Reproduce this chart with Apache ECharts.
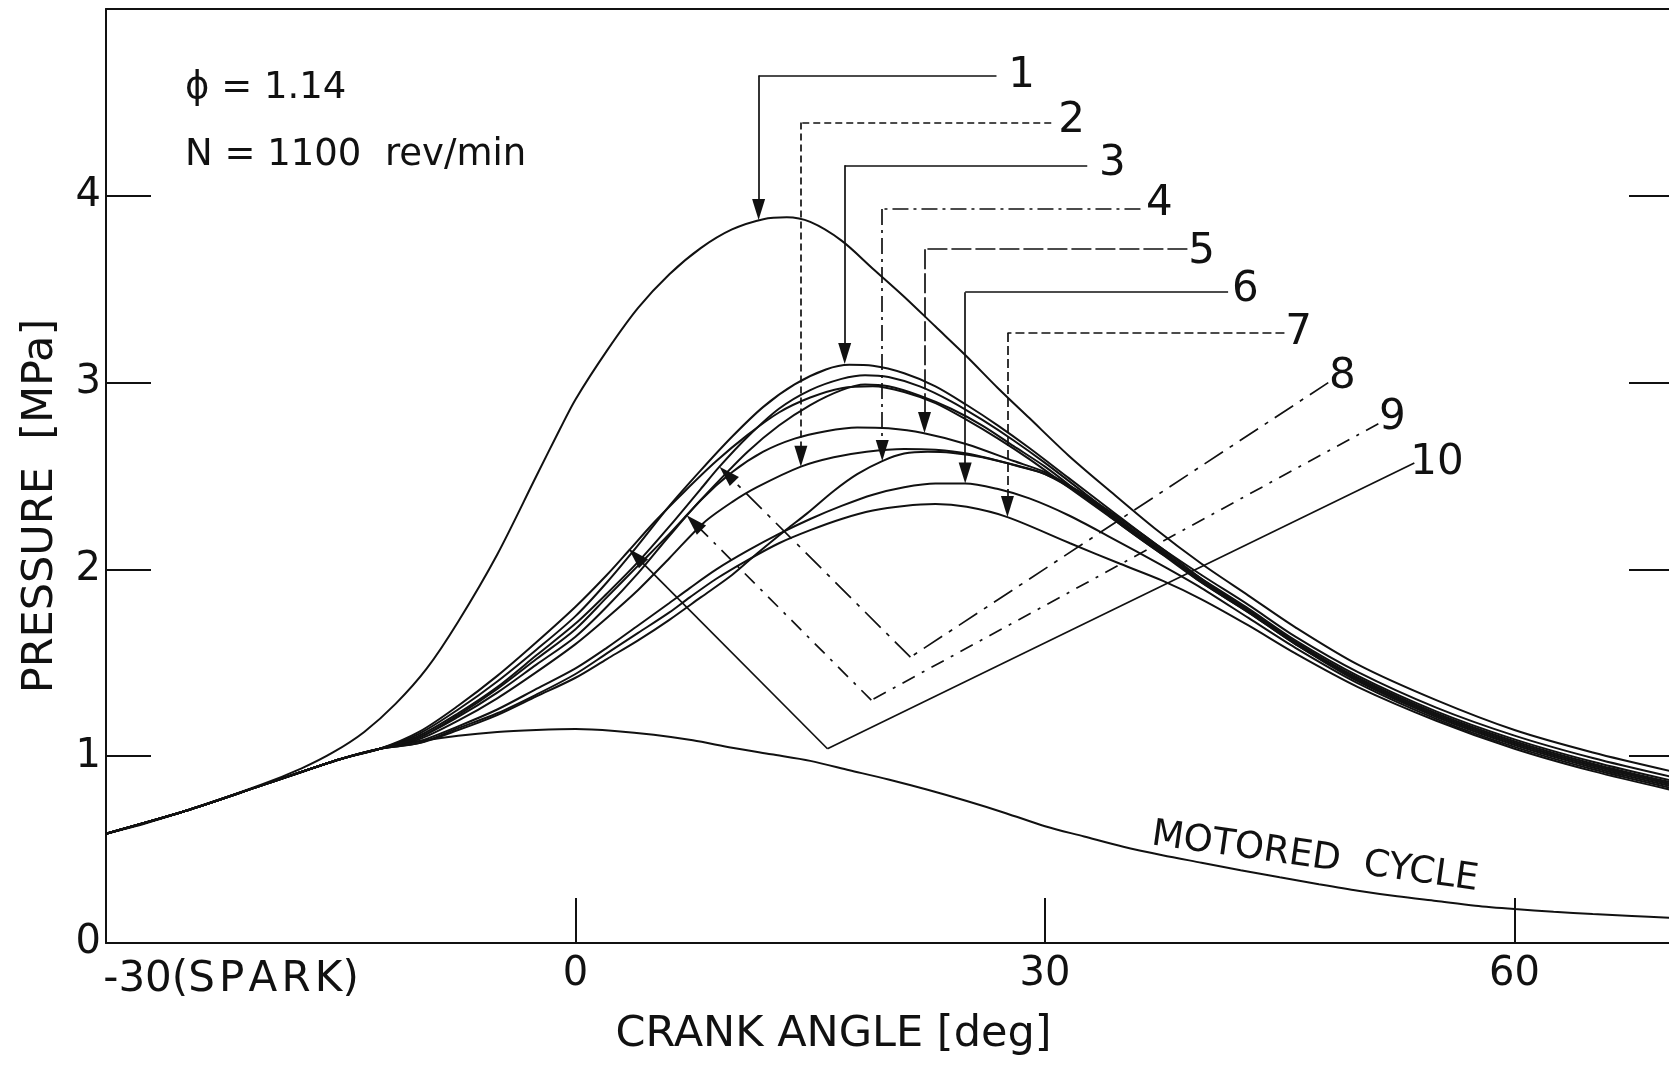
<!DOCTYPE html>
<html>
<head>
<meta charset="utf-8">
<title>Pressure vs crank angle</title>
<script src="https://cdn.jsdelivr.net/npm/echarts@6/dist/echarts.min.js"></script>
<style>
  html, body { margin: 0; padding: 0; background: #fff; }
  #chart { width: 1669px; height: 1069px; }
</style>
</head>
<body>
<div id="chart"></div>
<script>
// [crank angle deg, pressure MPa]
var motored = [[-30,0.585],[-27.5,0.64],[-25,0.705],[-22.5,0.775],[-20,0.845],[-17.5,0.915],[-15,0.985],[-12.5,1.04],[-10,1.08],[-7.5,1.11],[-5,1.13],[-2.5,1.14],[0,1.145],[2.5,1.135],[5,1.115],[7.5,1.085],[10,1.045],[12.5,1.01],[15,0.975],[17.5,0.925],[20,0.875],[22.5,0.82],[25,0.76],[27.5,0.695],[30,0.625],[32.5,0.57],[35,0.515],[37.5,0.47],[40,0.43],[42.5,0.39],[45,0.352],[47.5,0.315],[50,0.28],[52.5,0.25],[55,0.225],[57.5,0.20],[60,0.182],[62.5,0.167],[65,0.155],[67.5,0.145],[70,0.135]];

var cycle1 = [[-30,0.585],[-25,0.705],[-20,0.85],[-17.5,0.935],[-15.5,1.02],[-13.5,1.13],[-11.5,1.28],[-9.5,1.47],[-7.5,1.72],[-5,2.08],[-2.5,2.50],[-1,2.75],[0,2.91],[2,3.17],[4,3.40],[6,3.58],[8,3.72],[10,3.82],[12,3.875],[13.5,3.885],[15,3.86],[17,3.76],[19,3.61],[21,3.46],[23,3.30],[25,3.14],[27,2.97],[29,2.81],[31.5,2.61],[34,2.43],[37,2.22],[40,2.03],[43,1.86],[46,1.69],[50,1.49],[55,1.30],[60,1.14],[65,1.02],[70,0.92]];

var cycle2 = [[-30,0.585],[-25,0.705],[-20,0.845],[-15,0.985],[-12.5,1.04],[-10,1.09],[-7.5,1.19],[-5,1.31],[-2.5,1.45],[0,1.60],[2,1.74],[4,1.89],[6,2.06],[8.2,2.25],[10,2.36],[11.6,2.44],[14.4,2.55],[16.5,2.60],[18.6,2.63],[21,2.645],[23,2.64],[25,2.62],[28,2.56],[30,2.51],[32.5,2.39],[35,2.24],[37.5,2.09],[40,1.93],[43,1.77],[46,1.60],[50,1.40],[55,1.21],[60,1.06],[65,0.94],[70,0.84]];

var cycle3 = [[-30,0.585],[-25,0.705],[-20,0.845],[-15,0.985],[-12.5,1.04],[-10,1.12],[-7.5,1.25],[-5,1.40],[-2.5,1.57],[0,1.75],[2,1.93],[4,2.13],[6,2.34],[8,2.53],[10,2.71],[12,2.87],[14,2.99],[16,3.07],[17.5,3.095],[19,3.09],[21,3.05],[23,2.98],[25,2.88],[27,2.77],[29,2.65],[31.5,2.49],[34,2.33],[37,2.14],[40,1.97],[43,1.81],[46,1.64],[50,1.45],[55,1.26],[60,1.11],[65,0.99],[70,0.89]];

var cycle4 = [[-30,0.585],[-25,0.705],[-20,0.845],[-15,0.985],[-12.5,1.04],[-10,1.07],[-7.5,1.14],[-5,1.22],[-2.5,1.32],[0,1.42],[2,1.52],[4,1.62],[6,1.73],[8,1.85],[10,1.97],[11.6,2.085],[13.5,2.215],[14.8,2.30],[16.5,2.42],[18,2.51],[19.6,2.58],[21,2.62],[22.5,2.63],[24,2.625],[26,2.60],[28.4,2.55],[30,2.51],[32.5,2.40],[35,2.24],[37.5,2.09],[40,1.94],[43,1.78],[46,1.61],[50,1.41],[55,1.22],[60,1.07],[65,0.95],[70,0.85]];

var cycle5 = [[-30,0.585],[-25,0.705],[-20,0.845],[-15,0.985],[-12.5,1.04],[-10,1.10],[-7.5,1.21],[-5,1.34],[-2.5,1.49],[0,1.64],[2,1.80],[4,1.98],[6,2.18],[8,2.37],[10,2.52],[12,2.63],[14,2.70],[16,2.74],[18,2.76],[20,2.755],[22.2,2.73],[25,2.67],[28,2.58],[30,2.52],[32.5,2.40],[35,2.26],[37.5,2.11],[40,1.95],[43,1.78],[46,1.61],[50,1.41],[55,1.22],[60,1.07],[65,0.95],[70,0.85]];

var cycle6 = [[-30,0.585],[-25,0.705],[-20,0.845],[-15,0.985],[-12.5,1.04],[-10,1.08],[-7.5,1.16],[-5,1.25],[-2.5,1.36],[0,1.47],[2,1.58],[4,1.70],[6,1.82],[7.3,1.90],[9,2.00],[11,2.10],[13,2.19],[15,2.27],[17,2.34],[19,2.40],[21,2.44],[23,2.46],[24.9,2.46],[27,2.43],[29,2.38],[31.5,2.29],[34,2.18],[37.5,2.02],[40,1.90],[43,1.74],[46,1.58],[50,1.39],[55,1.20],[60,1.05],[65,0.93],[70,0.83]];

var cycle7 = [[-30,0.585],[-25,0.705],[-20,0.845],[-15,0.985],[-12.5,1.04],[-10,1.07],[-7.5,1.15],[-5,1.23],[-2.5,1.33],[0,1.44],[2,1.55],[4,1.66],[6,1.77],[7.3,1.85],[9,1.95],[11,2.05],[13,2.14],[15,2.21],[17,2.27],[19,2.315],[21,2.34],[23,2.35],[25,2.335],[27.6,2.28],[31.6,2.14],[34.8,2.03],[37.5,1.94],[40,1.84],[43,1.70],[46,1.55],[50,1.37],[55,1.19],[60,1.04],[65,0.92],[70,0.82]];

var cycle8 = [[-30,0.585],[-25,0.705],[-20,0.845],[-15,0.985],[-12.5,1.04],[-10,1.11],[-7.5,1.23],[-5,1.37],[-2.5,1.54],[0,1.71],[2,1.87],[4,2.04],[6,2.23],[8,2.43],[9.2,2.55],[11,2.71],[13,2.86],[15,2.96],[17,3.02],[18.5,3.04],[20,3.03],[22,2.98],[24,2.90],[26,2.80],[28,2.69],[30,2.57],[32.5,2.41],[35,2.25],[37.5,2.10],[40,1.94],[43,1.78],[46,1.61],[50,1.42],[55,1.23],[60,1.08],[65,0.96],[70,0.86]];

var cycle9 = [[-30,0.585],[-25,0.705],[-20,0.845],[-15,0.985],[-12.5,1.04],[-10,1.10],[-7.5,1.22],[-5,1.36],[-2.5,1.52],[0,1.68],[2,1.85],[4,2.02],[6,2.19],[7.1,2.29],[9,2.46],[11,2.63],[13,2.77],[15,2.88],[17,2.96],[18.5,2.99],[20,2.98],[22,2.93],[24,2.86],[26,2.77],[28,2.66],[30,2.55],[32.5,2.39],[35,2.23],[37.5,2.08],[40,1.93],[43,1.77],[46,1.60],[50,1.41],[55,1.22],[60,1.07],[65,0.95],[70,0.85]];

var cycle10 = [[-30,0.585],[-25,0.705],[-20,0.845],[-15,0.985],[-12.5,1.04],[-10,1.13],[-7.5,1.27],[-5,1.43],[-2.5,1.61],[0,1.80],[2,1.97],[3.4,2.10],[5,2.25],[7,2.42],[9,2.58],[11,2.72],[13,2.84],[15,2.92],[17,2.97],[19,2.98],[21,2.95],[23,2.89],[25,2.80],[27,2.70],[29,2.59],[31.5,2.44],[34,2.29],[37,2.11],[40,1.95],[43,1.79],[46,1.62],[50,1.43],[55,1.24],[60,1.09],[65,0.97],[70,0.87]];

// leader paths for the cycle numbers, axis units: label end -> corner -> arrow tip
var leader1 = [[26.9,4.644],[11.7,4.644],[11.7,3.87]];
var leader2 = [[30.4,4.393],[14.4,4.393],[14.4,2.55]];
var leader3 = [[32.7,4.163],[17.2,4.163],[17.2,3.10]];
var leader4 = [[36.1,3.93],[19.6,3.93],[19.6,2.58]];
var leader5 = [[39.1,3.714],[22.3,3.714],[22.3,2.73]];
var leader6 = [[41.7,3.484],[24.9,3.484],[24.9,2.46]];
var leader7 = [[45.3,3.265],[27.6,3.265],[27.6,2.28]];
var leader8 = [[48.1,3.00],[21.4,1.53],[9.2,2.55]];
var leader9 = [[51.3,2.78],[18.9,1.30],[7.1,2.29]];
var leader10 = [[53.6,2.57],[16.1,1.04],[3.4,2.11]];

var cycleLabels = ['1','2','3','4','5','6','7','8','9','10'];
var labelSpots = [[28.5,4.64],[31.7,4.40],[34.3,4.17],[37.3,3.955],[40.0,3.70],[42.8,3.495],[46.2,3.265],[49.0,3.03],[52.2,2.81],[55.05,2.57]];
var motoredLabelSpot = [47.25,0.457];

var xTicks = [-30, 0, 30, 60];

var FONT = '"DejaVu Sans", sans-serif';
var INK = '#111';
var ARROW = [13, 21];   // arrowhead width, length in px

var curves = [motored, cycle1, cycle2, cycle3, cycle4, cycle5, cycle6, cycle7, cycle8, cycle9, cycle10];
var leaders = [leader1, leader2, leader3, leader4, leader5, leader6, leader7, leader8, leader9, leader10];
var leaderDash = ['solid', [7,4], 'solid', [16,5,3,5], [20,4], 'solid', [9,4], [22,8,4,8], [14,8,3,8], 'solid'];

var legSegs = [], tipSegs = [];
leaders.forEach(function (path, i) {
    var st = { color: INK, width: 1.7, opacity: 1, type: leaderDash[i] };
    for (var k = 0; k < path.length - 1; k++) {
        var seg = { coords: [path[k], path[k + 1]], lineStyle: st };
        if (k === path.length - 2) tipSegs.push(seg); else legSegs.push(seg);
    }
});

var series = curves.map(function (d) {
    return {
        type: 'line', data: d, showSymbol: false, symbol: 'none', smooth: 0.3,
        lineStyle: { color: INK, width: 2 }, silent: true, z: 3
    };
});

series.push({
    type: 'lines', coordinateSystem: 'cartesian2d', data: legSegs,
    symbol: 'none', lineStyle: { color: INK, opacity: 1, width: 1.7 }, silent: true, z: 4
});
series.push({
    id: 'tips', type: 'lines', coordinateSystem: 'cartesian2d', data: tipSegs,
    symbol: ['none', 'triangle'], symbolSize: [[0, 0], ARROW],
    lineStyle: { color: INK, opacity: 1, width: 1.7 }, silent: true, z: 4
});
series.push({
    type: 'scatter', symbolSize: 0, silent: true, z: 5, itemStyle: { opacity: 1 },
    data: cycleLabels.map(function (n, i) { return { name: n, value: labelSpots[i] }; }),
    label: { show: true, position: 'inside', formatter: '{b}', fontSize: 42, color: INK, opacity: 1, fontFamily: FONT }
});
series.push({
    type: 'scatter', symbolSize: 0, silent: true, z: 5, itemStyle: { opacity: 1 },
    data: [{ name: 'MOTORED  CYCLE', value: motoredLabelSpot }],
    label: { show: true, position: 'inside', formatter: '{b}', rotate: -8, fontSize: 37, color: INK, opacity: 1, fontFamily: FONT }
});

var chart = echarts.init(document.getElementById('chart'));
chart.setOption({
    animation: false,
    backgroundColor: '#fff',
    grid: { left: 106, right: -2, top: 9, bottom: 126, containLabel: false, outerBoundsMode: 'none' },
    xAxis: [{
        type: 'value', min: -30, max: 70, interval: 30, position: 'bottom',
        axisLine: { onZero: false, lineStyle: { color: INK, width: 2 } },
        axisTick: { inside: true, length: 45, lineStyle: { color: INK, width: 2 } },
        splitLine: { show: false },
        axisLabel: {
            margin: 12, fontSize: 40, color: INK, fontFamily: FONT,
            formatter: function (v) {
                if (v === -30) return '{sp|-30(S\u200AP\u200AA\u200AR\u200AK)}';
                return xTicks.indexOf(v) >= 0 ? String(v) : '';
            },
            rich: { sp: { fontSize: 42, color: INK, fontFamily: FONT, padding: [4, 0, 0, 250] } }
        },
        name: 'CRANK ANGLE [deg]', nameLocation: 'middle', nameGap: 70, nameMoveOverlap: false,
        nameTextStyle: { fontSize: 43, color: INK, fontFamily: FONT, padding: [0, 110, 0, 0] }
    }, {
        type: 'value', min: -30, max: 70, position: 'top',
        axisLine: { onZero: false, lineStyle: { color: INK, width: 2 } },
        axisTick: { show: false }, axisLabel: { show: false }, splitLine: { show: false }
    }],
    yAxis: [{
        type: 'value', min: 0, max: 5, interval: 1, position: 'left',
        axisLine: { onZero: false, lineStyle: { color: INK, width: 2 } },
        axisTick: { inside: true, length: 45, lineStyle: { color: INK, width: 2 } },
        splitLine: { show: false },
        axisLabel: {
            margin: 5, fontSize: 40, color: INK, fontFamily: FONT,
            formatter: function (v) { return v === 5 ? '' : String(v); }
        },
        name: 'PRESSURE  [MPa]', nameLocation: 'middle', nameRotate: 90, nameGap: 44, nameMoveOverlap: false,
        nameTextStyle: { fontSize: 43, color: INK, fontFamily: FONT, padding: [0, 60, 0, 0] }
    }, {
        type: 'value', min: 0, max: 5, interval: 1, position: 'right',
        axisLine: { show: false, onZero: false },
        axisTick: { inside: true, length: 42, lineStyle: { color: INK, width: 2 } },
        axisLabel: { show: false }, splitLine: { show: false }
    }],
    graphic: [
        { type: 'text', left: 185, top: 70, style: { text: '\u03D5 = 1.14', font: '37px ' + FONT, fill: INK } },
        { type: 'text', left: 185, top: 137, style: { text: 'N = 1100  rev/min', font: '37px ' + FONT, fill: INK } }
    ],
    series: series
});

// the head is centred on the segment end, so pull each end back by half its length
// to put the point of the arrow on the curve
var tipsFixed = tipSegs.map(function (seg) {
    var a = chart.convertToPixel({ seriesId: 'tips' }, seg.coords[0]);
    var b = chart.convertToPixel({ seriesId: 'tips' }, seg.coords[1]);
    var dx = b[0] - a[0], dy = b[1] - a[1];
    var len = Math.sqrt(dx * dx + dy * dy);
    var end = [b[0] - dx / len * ARROW[1] / 2, b[1] - dy / len * ARROW[1] / 2];
    return { coords: [seg.coords[0], chart.convertFromPixel({ seriesId: 'tips' }, end)], lineStyle: seg.lineStyle };
});
chart.setOption({ series: [{ id: 'tips', data: tipsFixed }] });
</script>
</body>
</html>
